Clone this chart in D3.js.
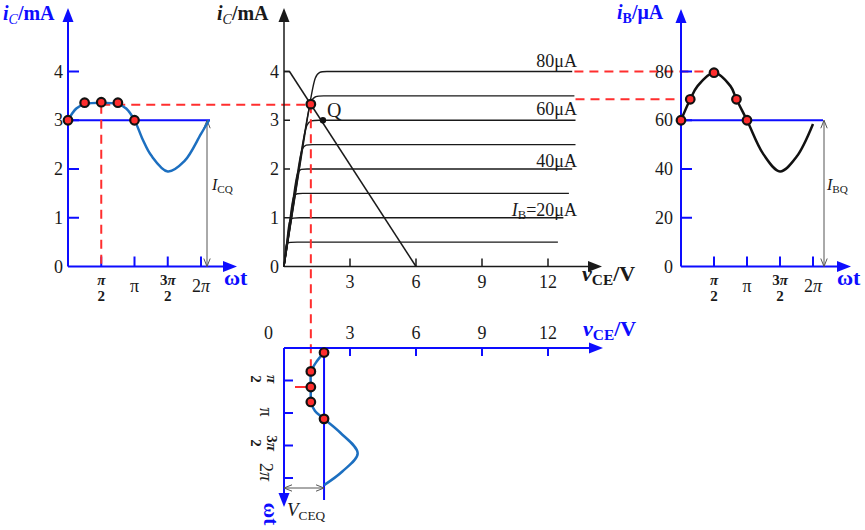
<!DOCTYPE html>
<html><head><meta charset="utf-8">
<script src="https://cdn.jsdelivr.net/npm/d3@7"></script>
<style>body{margin:0;background:#fff}svg{display:block}</style>
</head><body><svg id="c" width="865" height="530" font-family="'Liberation Serif', 'Times New Roman', 'DejaVu Serif', serif"></svg>
<script>
// ---------- data ----------
// middle: output characteristics (i_C in mA vs v_CE in V)
const icLevels = [0.5, 1, 1.5, 2, 2.5, 3, 3.5, 4];
const cornerV = [0.1, 0.25, 0.42, 0.6, 0.8, 1.0, 1.2, 1.4];
const flatV = [0.6, 0.7, 0.85, 1.05, 1.3, 1.6, 1.8, 1.95];
const endV = [12.45, 12.7, 12.95, 13.1, 13.25, 13.25, 13.2, 13.1];
const curveLabels = [{lvl: 4, t: "80μA"}, {lvl: 3, t: "60μA"}, {lvl: 2, t: "40μA"}, {lvl: 1, t: "20μA", ib: true}];
const loadV = [0.25, 6], loadI = [4, 0];
const qPoint = [1.77, 3.0];
const opPoint = [1.22, 3.33];
const vTicks = [3, 6, 9, 12];
const icTicks = [0, 1, 2, 3, 4];
const ibTicks = [0, 20, 40, 60, 80];
// left: i_C waveform (ωt in units of π, mA)
const icT = [0, 0.125, 0.25, 0.5, 0.75, 0.875, 1, 1.125, 1.25, 1.5, 1.75, 2, 2.12];
const icW = [3.0, 3.24, 3.33, 3.36, 3.33, 3.24, 3.0, 2.6, 2.28, 1.95, 2.16, 2.72, 3.0];
const icPtsT = [0, 0.25, 0.5, 0.75, 1];
const icPtsV = [3.0, 3.36, 3.37, 3.36, 3.0];
const ICQ = 3, icDash = 3.32;
// right: i_B waveform (ωt in units of π, μA)
const ibT = [0, 0.14, 0.25, 0.5, 0.75, 0.84, 1, 1.25, 1.5, 1.75, 2];
const ibW = [60, 68.6, 74, 79.5, 74, 68.6, 60, 46, 39, 45, 58.5];
const ibPtsT = [0, 0.14, 0.5, 0.84, 1];
const ibPtsV = [60, 68.6, 79.5, 68.6, 60];
const IBQ = 60, ibDash = [80, 68.6];
// bottom: v_CE waveform (ωt in units of π downward, V)
const vT = [0.07, 0.2, 0.36, 0.6, 0.83, 0.97, 1.09, 1.3, 1.62, 1.9, 2.11];
const vW = [1.82, 1.5, 1.24, 1.22, 1.24, 1.41, 1.82, 2.55, 3.35, 2.65, 1.82];
const vPtsT = [0.07, 0.36, 0.6, 0.83, 1.09];
const vPtsV = [1.82, 1.22, 1.22, 1.22, 1.82];
const VCEQ = 1.82;
const wtTicks = [0.5, 1, 1.5, 2];

// ---------- scales ----------
const xL = d3.scaleLinear().domain([0, 2]).range([68, 201]);
const yL = d3.scaleLinear().domain([0, 4]).range([266.5, 71.5]);
const xM = d3.scaleLinear().domain([0, 12]).range([284, 548]);
const yM = yL;
const xR = d3.scaleLinear().domain([0, 2]).range([681, 813]);
const yR = d3.scaleLinear().domain([0, 80]).range([266.5, 71.5]);
const yB = d3.scaleLinear().domain([0, 2]).range([348, 478]);
const xB = xM;

const BLUE = "#0d0dff", CURVE = "#1c6fc0", RED = "#ff2e2e", DARK = "#1a1a1a", GRAY = "#555";
const FONT = "'Liberation Serif', 'Times New Roman', 'DejaVu Serif', serif";
const svg = d3.select("#c");

function head(g, x, y, dir, color, len = 14, w = 11) {
  let p;
  if (dir === "up") p = [[x, y], [x - w / 2, y + len], [x + w / 2, y + len]];
  else if (dir === "down") p = [[x, y], [x - w / 2, y - len], [x + w / 2, y - len]];
  else p = [[x, y], [x - len, y - w / 2], [x - len, y + w / 2]];
  g.append("path").attr("d", "M" + p.join("L") + "Z").attr("fill", color);
}
function line(g, x1, y1, x2, y2, color, w = 1.5, dash) {
  const l = g.append("line").attr("x1", x1).attr("y1", y1).attr("x2", x2).attr("y2", y2)
    .attr("stroke", color).attr("stroke-width", w);
  if (dash) l.attr("stroke-dasharray", dash);
  return l;
}
function dblArrow(g, x1, y1, x2, y2) {
  line(g, x1, y1, x2, y2, GRAY, 1);
  const vert = x1 === x2;
  const s = 3.2, L = 8;
  if (vert) {
    g.append("path").attr("d", `M${x1 - s},${y1 + L}L${x1},${y1}L${x1 + s},${y1 + L}`).attr("fill", "none").attr("stroke", GRAY);
    g.append("path").attr("d", `M${x2 - s},${y2 - L}L${x2},${y2}L${x2 + s},${y2 - L}`).attr("fill", "none").attr("stroke", GRAY);
  } else {
    g.append("path").attr("d", `M${x1 + L},${y1 - s}L${x1},${y1}L${x1 + L},${y1 + s}`).attr("fill", "none").attr("stroke", GRAY);
    g.append("path").attr("d", `M${x2 - L},${y2 - s}L${x2},${y2}L${x2 - L},${y2 + s}`).attr("fill", "none").attr("stroke", GRAY);
  }
}
function rich(g, x, y, parts, size, fill, anchor) {
  const t = g.append("text").attr("x", x).attr("y", y).attr("font-size", size).attr("font-family", FONT)
    .attr("fill", fill).attr("text-anchor", anchor || "start");
  let cur = 0;
  parts.forEach(p => {
    const s = t.append("tspan").text(p.t);
    const target = p.sub ? size * 0.2 : 0;
    if (target !== cur) { s.attr("dy", target - cur); cur = target; }
    if (p.sub) s.attr("font-size", size * 0.7);
    if (p.i) s.attr("font-style", "italic");
    if (p.b) s.attr("font-weight", "bold");
  });
  return t;
}
function txt(g, x, y, s, size, fill, anchor, opts = {}) {
  const t = g.append("text").attr("x", x).attr("y", y).attr("font-size", size).attr("fill", fill).attr("font-family", FONT)
    .attr("text-anchor", anchor || "middle").text(s);
  if (opts.b) t.attr("font-weight", "bold");
  if (opts.i) t.attr("font-style", "italic");
  return t;
}
// π tick label: value in units of π; drawn at (0,0) of g
function piLabel(g, v) {
  if (v === 0.5 || v === 1.5) {
    const num = g.append("text").attr("x", 0).attr("y", -4).attr("font-size", 15).attr("font-family", FONT).attr("text-anchor", "middle").attr("fill", DARK).attr("font-weight", "bold");
    if (v === 1.5) num.append("tspan").text("3");
    num.append("tspan").attr("font-style", "italic").text("π");
    txt(g, 0, 12, "2", 15, DARK, "middle", {b: true});
  } else if (v === 1) {
    txt(g, 0, 3, "π", 18, DARK);
  } else {
    const t = g.append("text").attr("x", 0).attr("y", 3).attr("font-size", 18).attr("font-family", FONT).attr("text-anchor", "middle").attr("fill", DARK);
    t.append("tspan").text("2");
    t.append("tspan").attr("font-style", "italic").text("π");
  }
}
function dot(g, x, y, r = 4.3) {
  g.append("circle").attr("cx", x).attr("cy", y).attr("r", r).attr("fill", RED).attr("stroke", "#111").attr("stroke-width", 2.2);
}

// ---------- LEFT: i_C(ωt) ----------
const gL = svg.append("g");
line(gL, xL(0), yL(0), xL(0), 20, BLUE, 2); head(gL, xL(0), 8, "up", BLUE);
line(gL, xL(0), yL(0), 224, yL(0), BLUE, 2); head(gL, 237, yL(0), "right", BLUE);
icTicks.slice(1).forEach(v => line(gL, xL(0), yL(v), xL(0) + 11, yL(v), BLUE, 2));
wtTicks.forEach(v => line(gL, xL(v), yL(0), xL(v), yL(0) - 10, BLUE, 2));
icTicks.forEach(v => txt(gL, 63, yL(v) + 6, String(v), 18, DARK, "end"));
wtTicks.forEach(v => piLabel(gL.append("g").attr("transform", `translate(${xL(v)},${yL(0) + 22})`), v));
rich(gL, 3, 20, [{t: "i", i: 1, b: 1}, {t: "C", sub: 1, i: 1}, {t: "/mA", b: 1}], 20, BLUE);
txt(gL, 224, 285, "ωt", 22, BLUE, "start", {b: true});
line(gL, xL(0), yL(ICQ), 210, yL(ICQ), BLUE, 2);
dblArrow(gL, 207, yL(ICQ), 207, yL(0));
rich(gL, 212, 190, [{t: "I", i: 1}, {t: "CQ", sub: 1}], 16, DARK);
line(gL, xL(0.5), yL(icDash), xL(0.5), yL(0), RED, 2, "9,6");
line(gL, xL(0.5), yL(icDash), xM(opPoint[0]), yL(icDash), RED, 2, "9,6");
gL.append("path").datum(d3.zip(icT, icW))
  .attr("d", d3.line().x(d => xL(d[0])).y(d => yL(d[1])).curve(d3.curveCatmullRom))
  .attr("fill", "none").attr("stroke", CURVE).attr("stroke-width", 2.5);
icPtsT.forEach((t, i) => dot(gL, xL(t), yL(icPtsV[i])));

// ---------- MIDDLE: output characteristics ----------
const gM = svg.append("g");
line(gM, xM(0), yM(0), xM(0), 20, DARK, 1.5); head(gM, xM(0), 8, "up", DARK);
line(gM, xM(0), yM(0), 590, yM(0), DARK, 1.5); head(gM, 602, yM(0), "right", DARK);
icTicks.slice(1).forEach(v => line(gM, xM(0), yM(v), xM(0) + 6, yM(v), DARK, 1.5));
vTicks.forEach(v => line(gM, xM(v), yM(0), xM(v), yM(0) - 8, DARK, 1.5));
icTicks.forEach(v => txt(gM, 279, yM(v) + 6, String(v), 18, DARK, "end"));
vTicks.forEach(v => txt(gM, xM(v), 288, String(v), 18, DARK));
rich(gM, 217, 20, [{t: "i", i: 1, b: 1}, {t: "C", sub: 1, i: 1}, {t: "/mA", b: 1}], 20, DARK);
rich(gM, 582, 281, [{t: "v", i: 1, b: 1}, {t: "CE", sub: 1, b: 1}, {t: "/V", b: 1}], 22, DARK);
icLevels.forEach((I, k) => {
  const c = [xM(cornerV[k]), yM(I)];
  const p1 = [xM(cornerV[k] * 0.72), yM(I * 0.72)];
  const p2 = [xM(flatV[k]), yM(I)];
  const e = [xM(endV[k]), yM(I)];
  gM.append("path")
    .attr("d", `M${xM(0)},${yM(0)}L${p1}C${c} ${c} ${p2}L${e}`)
    .attr("fill", "none").attr("stroke", DARK).attr("stroke-width", 1.4);
});
curveLabels.forEach(c => {
  const y = yM(c.lvl) - (c.lvl === 4 ? 5 : (c.lvl === 3 ? 5 : 2));
  if (c.ib) rich(gM, 577, y, [{t: "I", i: 1}, {t: "B", sub: 1}, {t: "=" + c.t}], 18, DARK, "end");
  else txt(gM, 577, y, c.t, 18, DARK, "end");
});
gM.append("path").datum(d3.zip(loadV, loadI))
  .attr("d", d3.line().x(d => xM(d[0])).y(d => yM(d[1])))
  .attr("stroke", DARK).attr("stroke-width", 1.5).attr("fill", "none");
line(gM, xM(0), yM(4), xM(loadV[0]), yM(4), DARK, 1.5);
gM.append("circle").attr("cx", xM(qPoint[0])).attr("cy", yM(qPoint[1])).attr("r", 3.2).attr("fill", "#111");
txt(gM, 327, 117, "Q", 20, DARK, "start");
// dashed projections
line(gM, xM(opPoint[0]), yM(opPoint[1]), xM(opPoint[0]), yB(0.3), RED, 2, "9,6");
line(gM, xM(13.2), yR(ibDash[0]), xR(0.5), yR(ibDash[0]), RED, 2, "9,6");
line(gM, xM(13.25), yR(ibDash[1]), xR(0), yR(ibDash[1]), RED, 2, "9,6");
dot(gM, xM(opPoint[0]), yM(opPoint[1]));

// ---------- RIGHT: i_B(ωt) ----------
const gR = svg.append("g");
line(gR, xR(0), yR(0), xR(0), 22, BLUE, 2); head(gR, xR(0), 9, "up", BLUE);
line(gR, xR(0), yR(0), 838, yR(0), BLUE, 2); head(gR, 851, yR(0), "right", BLUE);
ibTicks.slice(1).forEach(v => line(gR, xR(0), yR(v), xR(0) + 11, yR(v), BLUE, 2));
wtTicks.forEach(v => line(gR, xR(v), yR(0), xR(v), yR(0) - 10, BLUE, 2));
ibTicks.forEach(v => txt(gR, 673, yR(v) + 6, String(v), 18, DARK, "end"));
wtTicks.forEach(v => piLabel(gR.append("g").attr("transform", `translate(${xR(v)},${yR(0) + 22})`), v));
rich(gR, 617, 19, [{t: "i", i: 1, b: 1}, {t: "B", sub: 1, b: 1}, {t: "/μA", b: 1}], 20, BLUE);
txt(gR, 837, 285, "ωt", 22, BLUE, "start", {b: true});
line(gR, xR(0), yR(IBQ), 823, yR(IBQ), BLUE, 2);
dblArrow(gR, 824, yR(IBQ), 824, yR(0));
rich(gR, 827, 190, [{t: "I", i: 1}, {t: "BQ", sub: 1}], 16, DARK);
gR.append("path").datum(d3.zip(ibT, ibW))
  .attr("d", d3.line().x(d => xR(d[0])).y(d => yR(d[1])).curve(d3.curveCatmullRom))
  .attr("fill", "none").attr("stroke", "#111").attr("stroke-width", 2.5);
ibPtsT.forEach((t, i) => dot(gR, xR(t), yR(ibPtsV[i])));

// ---------- BOTTOM: v_CE(ωt) ----------
const gB = svg.append("g");
line(gB, xB(0), yB(0), 590, yB(0), BLUE, 2); head(gB, 603, yB(0), "right", BLUE);
line(gB, xB(0), yB(0), xB(0), 494, BLUE, 2); head(gB, xB(0), 507, "down", BLUE);
vTicks.forEach(v => line(gB, xB(v), yB(0), xB(v), yB(0) + 8, BLUE, 2));
wtTicks.forEach(v => line(gB, xB(0), yB(v), xB(0) + 9, yB(v), BLUE, 2));
txt(gB, 273, 339, "0", 18, DARK, "end");
vTicks.forEach(v => txt(gB, xB(v), 339, String(v), 18, DARK));
rich(gB, 583, 336, [{t: "v", i: 1, b: 1}, {t: "CE", sub: 1, b: 1}, {t: "/V", b: 1}], 22, BLUE);
const bLabelY = {0.5: 379, 1: 412, 1.5: 443, 2: 472};
wtTicks.forEach(v => piLabel(gB.append("g").attr("transform", `translate(263,${bLabelY[v]}) rotate(90)`), v));
gB.append("g").attr("transform", "translate(264,514) rotate(90)")
  .append("text").attr("x", 0).attr("y", 0).attr("font-size", 21).attr("font-weight", "bold").attr("font-family", FONT)
  .attr("fill", BLUE).attr("text-anchor", "middle").text("ωt");
line(gB, xB(VCEQ), yB(0), xB(VCEQ), 500, BLUE, 2);
dblArrow(gB, xB(0), 488, xB(VCEQ), 488);
rich(gB, 287, 516, [{t: "V", i: 1}, {t: "CEQ", sub: 1}], 19, DARK);
line(gB, xB(0.5), yB(0.6), xB(opPoint[0]), yB(0.6), RED, 2);
gB.append("path").datum(d3.zip(vT, vW))
  .attr("d", d3.line().x(d => xB(d[1])).y(d => yB(d[0])).curve(d3.curveCatmullRom))
  .attr("fill", "none").attr("stroke", CURVE).attr("stroke-width", 2.5);
vPtsT.forEach((t, i) => dot(gB, xB(vPtsV[i]), yB(t)));
</script></body></html>
